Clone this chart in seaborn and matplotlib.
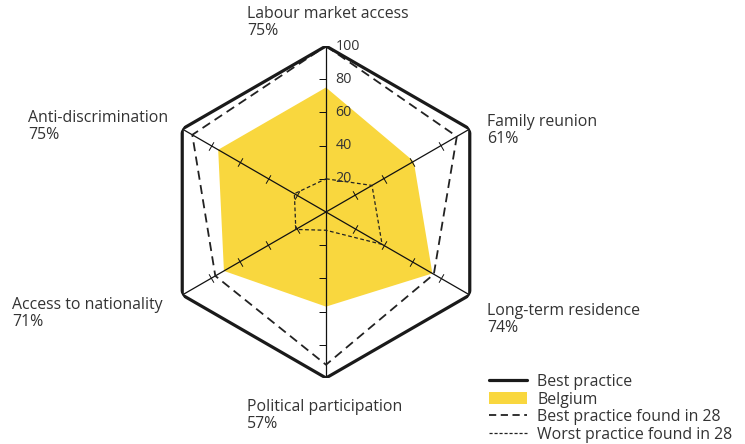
import numpy as np
import matplotlib
matplotlib.use("Agg")
import matplotlib.pyplot as plt
import seaborn as sns
from matplotlib.lines import Line2D
from matplotlib.patches import Patch

categories = ["Labour market access", "Family reunion", "Long-term residence",
              "Political participation", "Access to nationality", "Anti-discrimination"]
belgium = [75, 61, 74, 57, 71, 75]
best_practice = [100, 100, 100, 100, 100, 100]
best_found = [100, 91, 75, 92, 77, 93]
worst_found = [20, 32, 39, 11, 21, 22]
tick_values = [20, 40, 60, 80, 100]
tick_labels = ["20", "40", "60", "80", "100"]
legend_labels = ["Best practice", "Belgium", "Best practice found in 28", "Worst practice found in 28"]

sns.set_theme(style="white")
plt.rcParams['font.family'] = ['Open Sans', 'DejaVu Sans']

YELLOW = "#F9D73E"
TXT = "#333333"

fig = plt.figure(figsize=(7.45, 4.44), dpi=100)
cx, cy, R = 326, 212, 166
W, H = 745, 444
ax = fig.add_axes([(cx - R) / W, (H - cy - R) / H, 2 * R / W, 2 * R / H], projection="polar")
ax.set_theta_zero_location("N")
ax.set_theta_direction(-1)
ax.set_ylim(0, 100)
ax.grid(False)
ax.spines['polar'].set_visible(False)
ax.set_xticks([])
ax.set_yticks([])
ax.patch.set_alpha(0)

n = len(categories)
theta = np.linspace(0, 2 * np.pi, n, endpoint=False)
theta_c = np.append(theta, theta[0])

def closed(v):
    return np.append(np.asarray(v, float), v[0])

ax.fill(theta_c, closed(belgium), color=YELLOW, lw=0, zorder=1)
sns.lineplot(x=theta_c, y=closed(worst_found), sort=False, ax=ax, color="#222222",
             lw=0.9, zorder=3, estimator=None)
ax.lines[-1].set_dashes((3, 2))
sns.lineplot(x=theta_c, y=closed(best_found), sort=False, ax=ax, color="#222222",
             lw=1.3, zorder=3, estimator=None)
ax.lines[-1].set_dashes((5, 3))
sns.lineplot(x=theta_c, y=closed(best_practice), sort=False, ax=ax, color="#1a1a1a",
             lw=2.3, zorder=4, estimator=None)

# axes spokes with small ticks
for i, t in enumerate(theta):
    ax.plot([t, t], [0, 100], color="#111111", lw=0.9, zorder=2)
    if i % 3 == 0:
        ax.plot([t] * 4, tick_values[:4], ls="none", marker=0, ms=5,
                mew=0.7, mec="#111111", zorder=2)
    else:
        rot = 90 - np.degrees(t)
        ax.plot([t] * 4, tick_values[:4], ls="none", marker=(2, 0, rot), ms=7,
                mew=0.7, mec="#111111", zorder=2)

for v, lab in zip(tick_values, tick_labels):
    ax.annotate(lab, xy=(0, v), xytext=(7, 0), textcoords="offset points",
                ha="left", va="center", fontsize=10.3, color=TXT)

# category labels
label_pos = [(247, 6), (487, 114), (487, 303), (247, 399), (12, 297), (28, 110)]
for cat, val, (px, py) in zip(categories, belgium, label_pos):
    fig.text(px / W, 1 - py / H, f"{cat}\n{val}%", ha="left", va="top",
             fontsize=11.4, color=TXT, linespacing=1.05)

handles = [Line2D([], [], color="#1a1a1a", lw=2.3),
           Patch(facecolor=YELLOW, edgecolor="none"),
           Line2D([], [], color="#222222", lw=1.3, dashes=(4, 2.5)),
           Line2D([], [], color="#222222", lw=0.9, dashes=(2.5, 1.5))]
leg = fig.legend(handles, legend_labels, loc="upper left",
                 bbox_to_anchor=(489 / W, 1 - 374 / H), frameon=False,
                 borderaxespad=0, borderpad=0, handlelength=2.4, handleheight=0.8,
                 handletextpad=0.65, labelspacing=0.1, fontsize=11.4)
for t in leg.get_texts():
    t.set_color(TXT)

fig.savefig("out.png", dpi=100)
